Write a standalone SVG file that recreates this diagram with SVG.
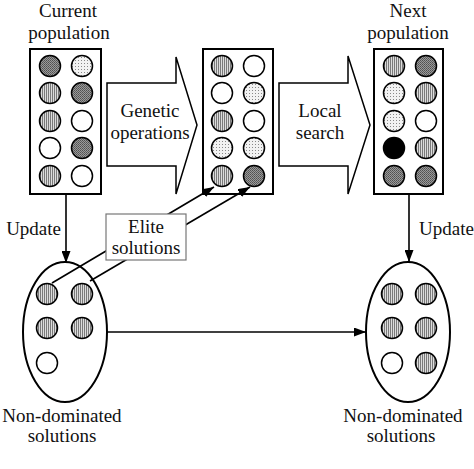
<svg xmlns="http://www.w3.org/2000/svg" width="474" height="469" viewBox="0 0 474 469">
<style>
text{font-family:"Liberation Serif","Times New Roman",serif;font-size:19px;fill:#111;text-anchor:middle}
.box{fill:#fff;stroke:#000;stroke-width:2}
.blk{fill:#fff;stroke:#000;stroke-width:1.5}
.c{stroke:#000;stroke-width:1.5}
.st{fill:url(#stripe)}
.dd{fill:url(#darkdot)}
.ld{fill:url(#lightdot)}
.w{fill:#fff}
.b{fill:#000}
.ln{stroke:#000;stroke-width:1.6;fill:none}
.ell{fill:none;stroke:#000;stroke-width:2}
</style>
<defs>
<pattern id="stripe" patternUnits="userSpaceOnUse" width="2" height="2"><rect width="2" height="2" fill="#dcdcdc"/><rect width="1" height="2" fill="#7a7a7a"/></pattern>
<pattern id="darkdot" patternUnits="userSpaceOnUse" width="2" height="2"><rect width="2" height="2" fill="#9a9a9a"/><rect width="1" height="1" fill="#505050"/><rect x="1" y="1" width="1" height="1" fill="#606060"/></pattern>
<pattern id="lightdot" patternUnits="userSpaceOnUse" width="3" height="3"><rect width="3" height="3" fill="#f2f2f2"/><rect width="1" height="1" fill="#888"/></pattern>
<marker id="ah" viewBox="0 0 12 9" refX="12" refY="4.5" markerWidth="12" markerHeight="9" orient="auto" markerUnits="userSpaceOnUse"><path d="M0,0 L12,4.5 L0,9 z" fill="#000"/></marker>
</defs>
<rect width="474" height="469" fill="#fff"/>

<g id="current-population">
<text x="68" y="17">Current</text>
<text x="69" y="39">population</text>
<rect class="box" x="30" y="49" width="71" height="145"/>
<circle class="c dd" cx="50" cy="66" r="10.5"/><circle class="c ld" cx="82" cy="66" r="10.5"/>
<circle class="c st" cx="50" cy="93" r="10.5"/><circle class="c dd" cx="82" cy="93" r="10.5"/>
<circle class="c st" cx="50" cy="121" r="10.5"/><circle class="c w" cx="82" cy="121" r="10.5"/>
<circle class="c w" cx="50" cy="148" r="10.5"/><circle class="c dd" cx="82" cy="148" r="10.5"/>
<circle class="c st" cx="50" cy="176" r="10.5"/><circle class="c w" cx="82" cy="176" r="10.5"/>
</g>

<g id="genetic-operations">
<polygon class="blk" points="107,83 176,83 176,57 197,125 176,194 176,166 107,166"/>
<text x="150" y="117">Genetic</text>
<text x="150" y="139">operations</text>
</g>

<g id="intermediate-population">
<rect class="box" x="203" y="49" width="70" height="145"/>
<circle class="c st" cx="222" cy="66" r="10.5"/><circle class="c w" cx="254" cy="66" r="10.5"/>
<circle class="c w" cx="222" cy="93" r="10.5"/><circle class="c ld" cx="254" cy="93" r="10.5"/>
<circle class="c st" cx="222" cy="121" r="10.5"/><circle class="c w" cx="254" cy="121" r="10.5"/>
<circle class="c ld" cx="222" cy="148" r="10.5"/><circle class="c ld" cx="254" cy="148" r="10.5"/>
<circle class="c st" cx="222" cy="176" r="10.5"/><circle class="c dd" cx="254" cy="176" r="10.5"/>
</g>

<g id="local-search">
<polygon class="blk" points="279,83 348,83 348,56 370,125 348,194 348,166 279,166"/>
<text x="320" y="117">Local</text>
<text x="320" y="139">search</text>
</g>

<g id="next-population">
<text x="408" y="17">Next</text>
<text x="408" y="39">population</text>
<rect class="box" x="374" y="49" width="69" height="145"/>
<circle class="c st" cx="394" cy="66" r="10.5"/><circle class="c dd" cx="426" cy="66" r="10.5"/>
<circle class="c ld" cx="394" cy="93" r="10.5"/><circle class="c st" cx="426" cy="93" r="10.5"/>
<circle class="c ld" cx="394" cy="121" r="10.5"/><circle class="c w" cx="426" cy="121" r="10.5"/>
<circle class="c b" cx="394" cy="148" r="10.5"/><circle class="c st" cx="426" cy="148" r="10.5"/>
<circle class="c dd" cx="394" cy="176" r="10.5"/><circle class="c dd" cx="426" cy="176" r="10.5"/>
</g>

<g id="nondominated-left">
<ellipse class="ell" cx="65" cy="332" rx="42" ry="70"/>
<circle class="c st" cx="47" cy="294" r="10.5"/><circle class="c st" cx="82" cy="294" r="10.5"/>
<circle class="c st" cx="47" cy="328" r="10.5"/><circle class="c st" cx="82" cy="328" r="10.5"/>
<circle class="c w" cx="47" cy="363" r="10.5"/>
<text x="62" y="422">Non-dominated</text>
<text x="62" y="442">solutions</text>
</g>

<g id="nondominated-right">
<ellipse class="ell" cx="408" cy="332" rx="42" ry="70"/>
<circle class="c st" cx="392" cy="294" r="10.5"/><circle class="c st" cx="426" cy="294" r="10.5"/>
<circle class="c st" cx="392" cy="328" r="10.5"/><circle class="c st" cx="426" cy="328" r="10.5"/>
<circle class="c w" cx="392" cy="363" r="10.5"/><circle class="c st" cx="426" cy="363" r="10.5"/>
<text x="403" y="422">Non-dominated</text>
<text x="401" y="442">solutions</text>
</g>

<g id="connectors">
<line class="ln" x1="66" y1="194" x2="66" y2="263" marker-end="url(#ah)"/>
<line class="ln" x1="409" y1="194" x2="409" y2="262" marker-end="url(#ah)"/>
<line class="ln" x1="107" y1="332" x2="366" y2="332" marker-end="url(#ah)"/>
<line class="ln" x1="52" y1="283" x2="214" y2="187" marker-end="url(#ah)"/>
<line class="ln" x1="90" y1="281" x2="250" y2="187" marker-end="url(#ah)"/>
</g>

<g id="update-labels">
<text x="61" y="235" style="text-anchor:end">Update</text>
<text x="419" y="235" style="text-anchor:start">Update</text>
</g>

<g id="elite-solutions">
<rect x="106" y="214" width="80" height="46" fill="#fff" stroke="#777" stroke-width="1.2"/>
<text x="146" y="233">Elite</text>
<text x="146" y="254">solutions</text>
</g>
</svg>
